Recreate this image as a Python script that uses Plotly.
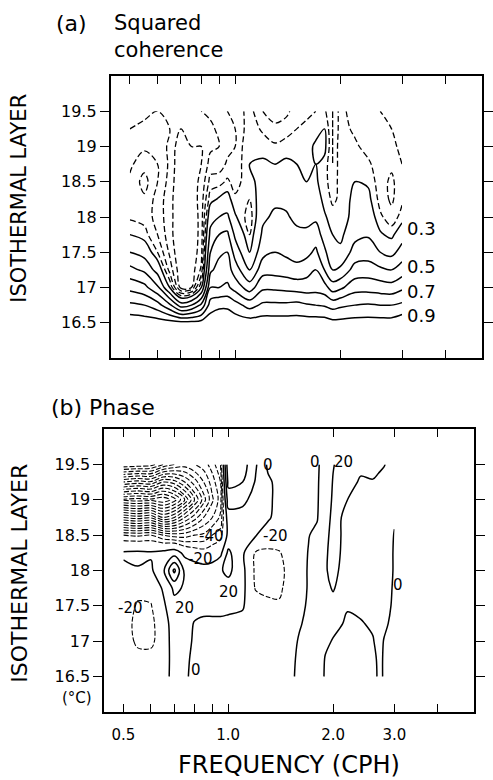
import math
import numpy as np
import plotly.graph_objects as go

# ---------------- data ----------------
layers = [16.5, 16.75, 17.0, 17.25, 17.5, 17.75, 18.0, 18.25, 18.5, 18.75, 19.0, 19.25, 19.5]

# (a) squared coherence: one profile (bottom -> top) per frequency
freq_coh = [0.5, 0.55, 0.6, 0.65, 0.7, 0.75, 0.8, 0.85, 0.9, 0.95, 1.0, 1.1, 1.2,
            1.3, 1.4, 1.5, 1.6, 1.7, 1.8, 1.9, 2.0, 2.2, 2.4, 2.6, 2.8, 3.0]
coh_profiles = [
    [0.97, 0.82, 0.67, 0.53, 0.40, 0.30, 0.24, 0.22, 0.21, 0.19, 0.17, 0.15, 0.13],
    [0.96, 0.80, 0.63, 0.48, 0.36, 0.27, 0.23, 0.24, 0.27, 0.23, 0.19, 0.16, 0.14],
    [0.95, 0.74, 0.52, 0.36, 0.25, 0.20, 0.18, 0.18, 0.20, 0.20, 0.18, 0.16, 0.15],
    [0.94, 0.62, 0.30, 0.18, 0.14, 0.12, 0.12, 0.12, 0.13, 0.14, 0.14, 0.15, 0.15],
    [0.93, 0.45, 0.08, 0.06, 0.05, 0.05, 0.05, 0.05, 0.05, 0.05, 0.06, 0.10, 0.12],
    [0.93, 0.50, 0.10, 0.07, 0.06, 0.06, 0.06, 0.07, 0.08, 0.09, 0.10, 0.11, 0.14],
    [0.94, 0.62, 0.30, 0.16, 0.13, 0.12, 0.12, 0.12, 0.11, 0.10, 0.10, 0.12, 0.15],
    [0.96, 0.85, 0.70, 0.58, 0.50, 0.43, 0.36, 0.28, 0.22, 0.17, 0.14, 0.14, 0.16],
    [0.97, 0.88, 0.70, 0.64, 0.58, 0.50, 0.40, 0.31, 0.23, 0.17, 0.15, 0.16, 0.18],
    [0.97, 0.88, 0.72, 0.65, 0.60, 0.52, 0.42, 0.33, 0.26, 0.21, 0.18, 0.18, 0.20],
    [0.96, 0.84, 0.66, 0.55, 0.46, 0.38, 0.31, 0.26, 0.23, 0.21, 0.20, 0.20, 0.22],
    [0.95, 0.76, 0.55, 0.40, 0.30, 0.25, 0.22, 0.25, 0.28, 0.30, 0.30, 0.28, 0.27],
    [0.95, 0.82, 0.68, 0.56, 0.47, 0.42, 0.38, 0.35, 0.33, 0.31, 0.28, 0.24, 0.20],
    [0.95, 0.82, 0.68, 0.56, 0.50, 0.45, 0.42, 0.38, 0.35, 0.30, 0.26, 0.21, 0.18],
    [0.95, 0.82, 0.67, 0.55, 0.48, 0.44, 0.41, 0.38, 0.34, 0.31, 0.28, 0.22, 0.19],
    [0.95, 0.83, 0.66, 0.53, 0.46, 0.42, 0.38, 0.35, 0.32, 0.30, 0.28, 0.25, 0.22],
    [0.95, 0.81, 0.65, 0.56, 0.47, 0.42, 0.37, 0.33, 0.30, 0.29, 0.28, 0.26, 0.24],
    [0.95, 0.80, 0.66, 0.60, 0.52, 0.45, 0.38, 0.34, 0.31, 0.30, 0.31, 0.28, 0.25],
    [0.95, 0.79, 0.64, 0.50, 0.42, 0.36, 0.31, 0.28, 0.27, 0.28, 0.32, 0.30, 0.26],
    [0.93, 0.76, 0.55, 0.40, 0.33, 0.30, 0.27, 0.24, 0.22, 0.20, 0.20, 0.20, 0.20],
    [0.93, 0.78, 0.58, 0.42, 0.32, 0.28, 0.26, 0.26, 0.27, 0.28, 0.28, 0.27, 0.27],
    [0.94, 0.80, 0.66, 0.54, 0.44, 0.37, 0.33, 0.32, 0.30, 0.28, 0.26, 0.24, 0.22],
    [0.94, 0.81, 0.66, 0.55, 0.45, 0.39, 0.35, 0.32, 0.29, 0.26, 0.23, 0.21, 0.20],
    [0.94, 0.80, 0.65, 0.52, 0.40, 0.31, 0.26, 0.23, 0.22, 0.22, 0.23, 0.24, 0.25],
    [0.94, 0.80, 0.64, 0.50, 0.37, 0.28, 0.22, 0.19, 0.19, 0.21, 0.23, 0.25, 0.26],
    [0.97, 0.82, 0.68, 0.55, 0.44, 0.36, 0.27, 0.24, 0.23, 0.25, 0.27, 0.29, 0.30],
]

# (b) phase (degrees): one profile (bottom -> top) per frequency
freq_phase = [0.5, 0.55, 0.6, 0.65, 0.7, 0.75, 0.8, 0.85, 0.9, 0.95, 1.0, 1.1, 1.2,
              1.3, 1.4, 1.5, 1.6, 1.7, 1.8, 1.9, 2.0, 2.2, 2.4, 2.6, 2.7, 2.8, 3.0]
phase_profiles = [
    [-8, -10, -12, -14, -10, -6, -3, 2, -30, -100, -172, -100, -30],
    [-10, -15, -23, -24, -22, -15, -1, 3, -32, -105, -175, -105, -32],
    [-10, -14, -24, -25, -21, -14, -3, 2, -30, -102, -173, -102, -35],
    [-6, -8, -10, -8, -4, 2, 15, 5, -40, -120, -178, -120, -50],
    [5, 6, 8, 8, 14, 24, 65, 10, -45, -110, -165, -115, -60],
    [3, 4, 5, 7, 12, 18, 15, -5, -45, -90, -140, -100, -65],
    [-5, -4, -2, -1, 6, 10, 12, -12, -40, -75, -110, -85, -60],
    [-8, -8, -4, -2, 3, 6, 8, -15, -38, -60, -85, -70, -55],
    [-8, -9, -4, -2, 3, 8, 10, -12, -30, -50, -62, -55, -45],
    [-8, -9, -4, -2, 3, 10, 18, -5, -25, -38, -45, -40, -30],
    [-8, -9, -6, -3, 3, 12, 25, 24, 5, 10, 30, 45, 55],
    [-8, -9, -6, -3, 1, 5, 5, 3, 5, 12, 25, 40, 50],
    [-8, -9, -8, -6, -8, -22, -24, -22, 1, 5, 12, 18, 22],
    [-8, -9, -10, -12, -16, -24, -26, -23, -10, 3, 4, 3, -3],
    [-8, -10, -12, -14, -18, -23, -24, -21, -12, -8, -6, -5, -5],
    [-5, -6, -8, -10, -12, -14, -16, -15, -10, -7, -5, -5, -4],
    [5, 4, 2, -2, -4, -5, -5, -5, -5, -4, -4, -4, -4],
    [8, 8, 7, 5, 2, 1, 1, 0.5, -0.5, -3, -4, -4, -4],
    [10, 10, 10, 8, 7, 6, 5, 4, 3, -1, -2, -2, -2],
    [-2, -1, 3, 6, 10, 14, 18, 17, 15, 13, 12, 9, 6],
    [-6, -4, -1, 4, 12, 22, 26, 27, 26, 24, 22, 21, 19],
    [-10, -8, -5, -2, 1, 5, 10, 13, 15, 17, 20, 26, 30],
    [-10, -8, -4, -1, 3, 6, 8, 10, 11, 12, 14, 18, 24],
    [-8, -5, -1, 2, 5, 6, 7, 8, 9, 10, 13, 19, 25],
    [3, 3, 4, 5, 6, 7, 7, 8, 8, 9, 11, 17, 23],
    [-1, -1, -0.5, 2, 4, 5, 6, 6, 6, 6, 8, 14, 21],
    [-8, -6, -4, -3, -2, -1.5, -1, -1, -0.5, 1, 3, 6, 12],
]

xtick_vals = [0.5, 0.6, 0.7, 0.8, 0.9, 1.0, 2.0, 3.0, 4.0]
xtick_text = ["0.5", "", "", "", "", "1.0", "2.0", "3.0", ""]
ytick_vals = [16.5, 17, 17.5, 18, 18.5, 19, 19.5]
ytick_text = ["16.5", "17", "17.5", "18", "18.5", "19", "19.5"]

coh_labels = ["0.3", "0.5", "0.7", "0.9"]
coh_label_layer = [17.84, 17.30, 16.94, 16.60]

phase_labels = ["0", "-40", "-20", "-20", "20", "-20", "20", "0", "0", "20", "0"]
phase_label_freq = [1.30, 0.895, 0.83, 1.37, 1.005, 0.524, 0.751, 0.81, 1.78, 2.14, 3.07]
phase_label_layer = [19.49, 18.49, 18.16, 18.49, 17.69, 17.47, 17.47, 16.60, 19.54, 19.54, 17.79]

# ---------------- figure ----------------
W, H = 493, 780
FONT = "DejaVu Sans"


def pxx(x):
    return x / W


def pyy(y):
    return 1 - y / H


coh_z = np.array(coh_profiles, dtype=float).T
phase_z = np.array(phase_profiles, dtype=float).T

fig = go.Figure()

solid = dict(color="black", width=1.5)
dashed = dict(color="black", width=1.3, dash="6px,3px")

fig.add_trace(go.Contour(
    x=freq_coh, y=layers, z=coh_z, xaxis="x", yaxis="y",
    autocontour=False,
    contours=dict(coloring="none", start=0.3, end=0.9001, size=0.1),
    line=solid, showscale=False, hoverinfo="skip"))
fig.add_trace(go.Contour(
    x=freq_coh, y=layers, z=coh_z, xaxis="x", yaxis="y",
    autocontour=False,
    contours=dict(coloring="none", start=0.1, end=0.2501, size=0.05),
    line=dashed, showscale=False, hoverinfo="skip"))

fig.add_trace(go.Contour(
    x=freq_phase, y=layers, z=phase_z, xaxis="x2", yaxis="y2",
    autocontour=False,
    contours=dict(coloring="none", start=0, end=160, size=20),
    line=solid, showscale=False, hoverinfo="skip"))
fig.add_trace(go.Contour(
    x=freq_phase, y=layers, z=phase_z, xaxis="x2", yaxis="y2",
    autocontour=False,
    contours=dict(coloring="none", start=-170, end=-20, size=10),
    line=dict(color="black", width=1.1, dash="5px,2px"), showscale=False,
    hoverinfo="skip"))

xcommon = dict(type="log", range=[-0.356, 0.706], showline=True, linecolor="black",
               linewidth=1.6, mirror="ticks", ticks="inside", ticklen=8, tickwidth=1.4,
               tickcolor="black", tickvals=xtick_vals, showgrid=False, zeroline=False,
               tickfont=dict(family=FONT, size=15, color="black"))
ycommon = dict(range=[16, 20], showline=True, linecolor="black", linewidth=1.6,
               mirror="ticks", ticks="outside", ticklen=9, tickwidth=1.4,
               tickcolor="black", tickvals=ytick_vals, ticktext=ytick_text,
               showgrid=False, zeroline=False,
               tickfont=dict(family=FONT, size=16, color="black"))

annotations = []


def add_text(text, x, y, size, xanchor="center", yanchor="middle", angle=0,
             xref="paper", yref="paper"):
    annotations.append(dict(text=text, x=x, y=y, xref=xref, yref=yref,
                            xanchor=xanchor, yanchor=yanchor, showarrow=False,
                            textangle=angle,
                            font=dict(family=FONT, size=size, color="black")))


add_text("(a)", pxx(55), pyy(23), 22, xanchor="left")
add_text("Squared", pxx(113), pyy(23), 21, xanchor="left")
add_text("coherence", pxx(113), pyy(50), 21, xanchor="left")
add_text("(b)", pxx(50), pyy(407), 22, xanchor="left")
add_text("Phase", pxx(88), pyy(407), 22, xanchor="left")
add_text("ISOTHERMAL LAYER", pxx(19), pyy(198), 21, angle=-90)
add_text("ISOTHERMAL LAYER", pxx(19), pyy(573), 22, angle=-90)
add_text("(°C)", pxx(95), pyy(698), 15, xanchor="right")
add_text("FREQUENCY (CPH)", pxx(293), pyy(765), 24)

for t, lay in zip(coh_labels, coh_label_layer):
    add_text(t, math.log10(3.05), lay, 18, xanchor="left", xref="x", yref="y")
for t, f, lay in zip(phase_labels, phase_label_freq, phase_label_layer):
    add_text(t, math.log10(f), lay, 15, xref="x2", yref="y2")

fig.update_layout(
    width=W, height=H, margin=dict(l=0, r=0, t=0, b=0),
    paper_bgcolor="white", plot_bgcolor="white", showlegend=False,
    xaxis=dict(**xcommon, domain=[pxx(112), pxx(488)], anchor="y",
               ticktext=[""] * len(xtick_vals)),
    yaxis=dict(**ycommon, domain=[pyy(358), pyy(76)], anchor="x"),
    xaxis2=dict(**xcommon, domain=[pxx(105.5), pxx(480)], anchor="y2",
                ticktext=xtick_text, ticklabelstandoff=8),
    yaxis2=dict(**ycommon, domain=[pyy(712), pyy(429)], anchor="x2"),
    annotations=annotations,
)

fig.write_html("out.html")
